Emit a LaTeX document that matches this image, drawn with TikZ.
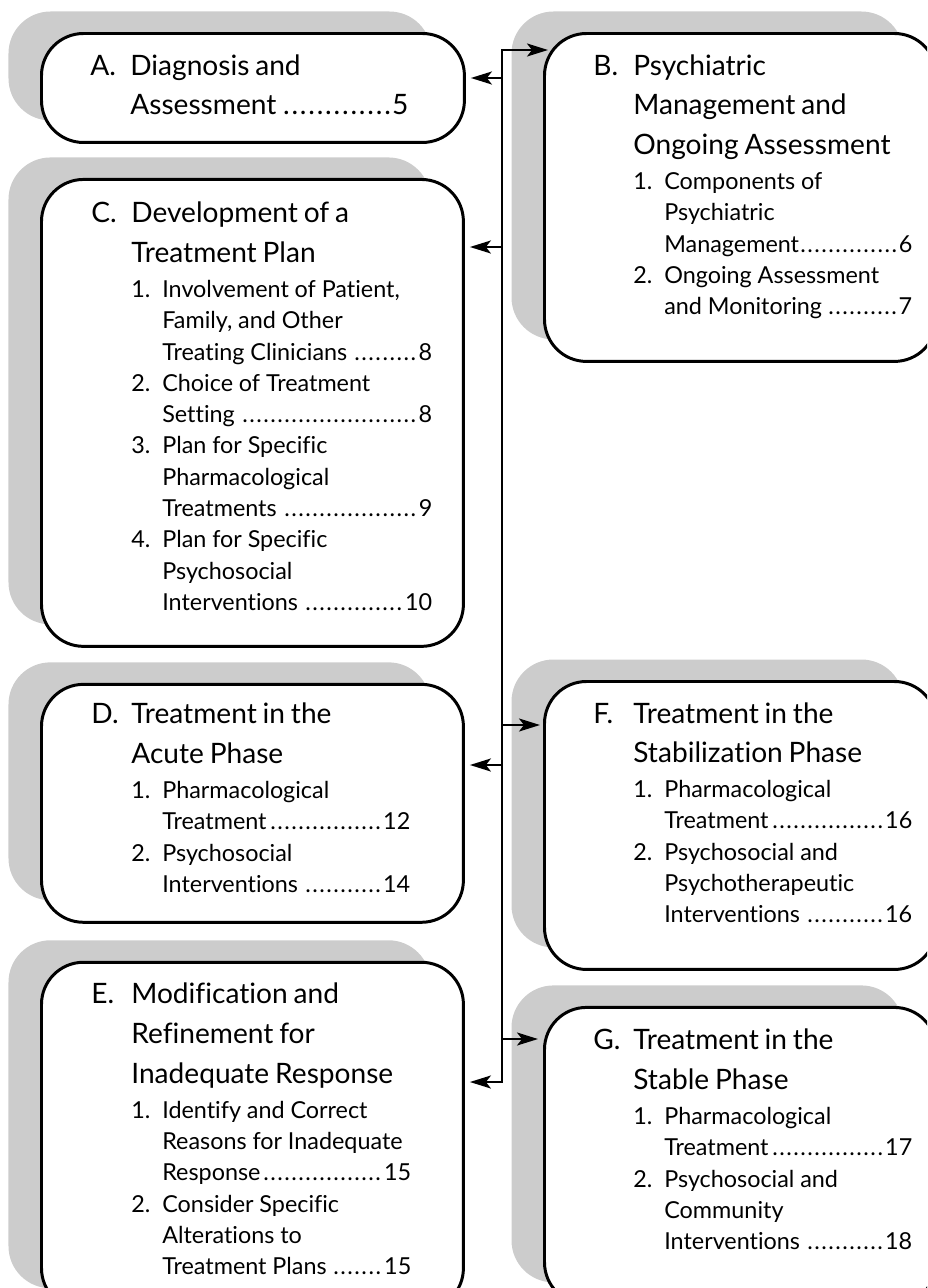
\documentclass[tikz,border=0pt]{standalone}
\usepackage{fontspec}
\setmainfont[Ligatures=NoCommon]{Lato}
\usetikzlibrary{positioning,calc,arrows.meta,shadows}

\newlength{\lblw}\setlength{\lblw}{0.8cm}
\newlength{\numw}\setlength{\numw}{0.62cm}
\newcommand{\brk}{\hfil\break}
\newcommand{\dotsto}[1]{\leaders\hbox to 0.3em{\hss.\hss}\hfill#1}
\newcommand{\tochead}[2]{{\fontsize{16}{22.7}\selectfont\noindent\hangindent=\lblw\hangafter=1\makebox[\lblw][l]{#1}#2\par}\vspace{2pt}}
\newcommand{\tocitem}[2]{{\fontsize{13.3}{17.8}\selectfont\leftskip=\lblw\noindent\hangindent=\numw\hangafter=1\makebox[\numw][l]{#1}#2\par}}

\begin{document}
\begin{tikzpicture}
		[x=0.02cm, y=-0.02cm,
		 >={Stealth[length=0.42cm,width=0.26cm,inset=0.1cm]},
		 box/.style={draw, line width=1.7pt, fill=white, rounded corners=0.84cm, inner sep=0pt,
		 	general shadow={fill=black!20, shadow xshift=-0.66cm, shadow yshift=0.44cm}},
		 toc/.style={inner sep=0pt, text width=6.38cm, anchor=base west},
		 wire/.style={line width=1.2pt, ->}]
		\useasboundingbox (0,0) rectangle (927,1288);
		\clip (0,0) rectangle (927,1288);

		% left column
		\node[box, minimum width=8.46cm, minimum height=2.18cm, anchor=north west] (A) at (40,32) {};
		\node[box, minimum width=8.44cm, minimum height=9.34cm, below=0.68cm of A.south west, anchor=north west] (C) {};
		\node[box, minimum width=8.44cm, minimum height=4.76cm, below=0.7cm of C.south west, anchor=north west] (D) {};
		\node[box, minimum width=8.44cm, minimum height=6.96cm, below=0.74cm of D.south west, anchor=north west] (E) {};
		% right column
		\node[box, minimum width=7.84cm, minimum height=6.56cm, anchor=north west] (B) at (543,32) {};
		\node[box, minimum width=7.84cm, minimum height=5.76cm, anchor=north west] (F) at (543,680) {};
		\node[box, minimum width=7.84cm, minimum height=5.94cm, below=0.7cm of F.south west, anchor=north west] (G) {};

		\node[toc, text width=6.36cm] (At) at ($(A.north west)+(50,43)$) {%
			\tochead{A.}{Diagnosis and\brk Assessment\dotsto{5}}};
		\node[toc, text width=6.82cm] (Ct) at ($(C.north west)+(51,45)$) {%
			\tochead{C.}{Development of a\brk Treatment Plan}
			\tocitem{1.}{Involvement of Patient,\brk Family, and Other\brk Treating Clinicians\dotsto{8}}
			\tocitem{2.}{Choice of Treatment\brk Setting\dotsto{8}}
			\tocitem{3.}{Plan for Specific\brk Pharmacological\brk Treatments\dotsto{9}}
			\tocitem{4.}{Plan for Specific\brk Psychosocial\brk Interventions\dotsto{10}}};
		\node[toc] (Dt) at ($(D.north west)+(51,41)$) {%
			\tochead{D.}{Treatment in the\brk Acute Phase}
			\tocitem{1.}{Pharmacological\brk Treatment\dotsto{12}}
			\tocitem{2.}{Psychosocial\brk Interventions\dotsto{14}}};
		\node[toc, text width=6.4cm] (Et) at ($(E.north west)+(51,43)$) {%
			\tochead{E.}{Modification and\brk Refinement for\brk Inadequate Response}
			\tocitem{1.}{Identify and Correct\brk Reasons for Inadequate\brk Response\dotsto{15}}
			\tocitem{2.}{Consider Specific\brk Alterations to\brk Treatment Plans\dotsto{15}}};
		\node[toc] (Bt) at ($(B.north west)+(50,43)$) {%
			\tochead{B.}{Psychiatric\brk Management and\brk Ongoing Assessment}
			\tocitem{1.}{Components of\brk Psychiatric\brk Management\dotsto{6}}
			\tocitem{2.}{Ongoing Assessment\brk and Monitoring\dotsto{7}}};
		\node[toc] (Ft) at ($(F.north west)+(50,43)$) {%
			\tochead{F.}{Treatment in the\brk Stabilization Phase}
			\tocitem{1.}{Pharmacological\brk Treatment\dotsto{16}}
			\tocitem{2.}{Psychosocial and\brk Psychotherapeutic\brk Interventions\dotsto{16}}};
		\node[toc] (Gt) at ($(G.north west)+(50,44)$) {%
			\tochead{G.}{Treatment in the\brk Stable Phase}
			\tocitem{1.}{Pharmacological\brk Treatment\dotsto{17}}
			\tocitem{2.}{Psychosocial and\brk Community\brk Interventions\dotsto{18}}};

		% the spine and its branches
		\coordinate (jB) at (502,50);
		\coordinate (jA) at (502,78);
		\coordinate (jC) at (502,247);
		\coordinate (jF) at (502,725);
		\coordinate (jD) at (502,765);
		\coordinate (jG) at (502,1039);
		\coordinate (jE) at (502,1082);
		\draw[wire, <->, shorten <=0.1cm, shorten >=-0.1cm]
			(E.east |- jE) -- (jE) -- (jB) -- (B.west |- jB);
		\draw[wire, shorten >=0.1cm] (jA) -- (A.east |- jA);
		\draw[wire, shorten >=0.1cm] (jC) -- (C.east |- jC);
		\draw[wire, shorten >=0.1cm] (jD) -- (D.east |- jD);
		\draw[wire, shorten >=0.06cm] (jF) -- (F.west |- jF);
		\draw[wire, shorten >=0.1cm] (jG) -- (G.west |- jG);
	\end{tikzpicture}
\end{document}
